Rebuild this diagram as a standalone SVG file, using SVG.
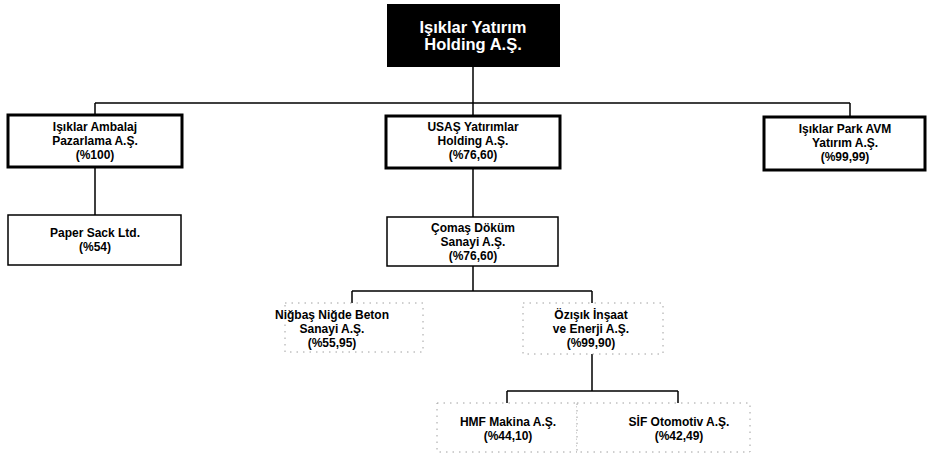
<svg xmlns="http://www.w3.org/2000/svg" width="927" height="456" viewBox="0 0 927 456">
<style>
text{font-family:"Liberation Sans",Arial,sans-serif;font-weight:bold;font-size:12px;text-anchor:middle;fill:#000}
.top text{fill:#fff;font-size:16.5px}
.thick{fill:#fff;stroke:#000;stroke-width:3}
.thin{fill:#fff;stroke:#000;stroke-width:1.5}
.dot{fill:#fff;stroke:#a0a0a0;stroke-width:1;stroke-dasharray:1.5 5}
.con{fill:none;stroke:#000;stroke-width:1.5}
</style>
<rect width="927" height="456" fill="#fff"/>
<g id="connectors">
<path class="con" d="M473 67V103M95 103H850M95 103V114M473 103V115M850 103V116"/>
<path class="con" d="M95 167V215M473 168V217"/>
<path class="con" d="M473 266V291M352 291H592M352 291V303M592 291V303"/>
<path class="con" d="M592 354V391M507 391H678M507 391V403M678 391V403"/>
</g>
<g id="n_top" class="top">
<rect x="387" y="4" width="173" height="63" fill="#000"/>
<text x="473" y="33">Işıklar Yatırım</text>
<text x="473" y="50">Holding A.Ş.</text>
</g>
<g id="n_ambalaj">
<rect class="thick" x="8" y="115" width="174" height="52"/>
<text x="95" y="131">Işıklar Ambalaj</text>
<text x="95" y="145">Pazarlama A.Ş.</text>
<text x="95" y="159">(%100)</text>
</g>
<g id="n_usas">
<rect class="thick" x="386" y="116" width="174" height="52"/>
<text x="473" y="131">USAŞ Yatırımlar</text>
<text x="473" y="145">Holding A.Ş.</text>
<text x="473" y="159">(%76,60)</text>
</g>
<g id="n_park">
<rect class="thick" x="764" y="117" width="161" height="53"/>
<text x="845" y="133">Işıklar Park AVM</text>
<text x="845" y="147">Yatırım A.Ş.</text>
<text x="845" y="161">(%99,99)</text>
</g>
<g id="n_paper">
<rect class="thin" x="8" y="215" width="173" height="50"/>
<text x="95" y="237">Paper Sack Ltd.</text>
<text x="95" y="251">(%54)</text>
</g>
<g id="n_comas">
<rect class="thin" x="387" y="217" width="171" height="49"/>
<text x="473" y="232">Çomaş Döküm</text>
<text x="473" y="246">Sanayi A.Ş.</text>
<text x="473" y="260">(%76,60)</text>
</g>
<g id="n_nigbas">
<rect class="dot" x="285" y="303" width="138" height="49"/>
<text x="332" y="319">Niğbaş Niğde Beton</text>
<text x="332" y="333">Sanayi A.Ş.</text>
<text x="332" y="347">(%55,95)</text>
</g>
<g id="n_ozisik">
<rect class="dot" x="523" y="303" width="140" height="51"/>
<text x="591" y="319">Özışık İnşaat</text>
<text x="591" y="333">ve Enerji A.Ş.</text>
<text x="591" y="347">(%99,90)</text>
</g>
<g id="n_hmf">
<rect class="dot" x="437" y="403" width="140" height="49"/>
<text x="508" y="426">HMF Makina A.Ş.</text>
<text x="508" y="440">(%44,10)</text>
</g>
<g id="n_sif">
<rect class="dot" x="577" y="403" width="173" height="49"/>
<text x="679" y="426">SİF Otomotiv A.Ş.</text>
<text x="679" y="440">(%42,49)</text>
</g>
</svg>
